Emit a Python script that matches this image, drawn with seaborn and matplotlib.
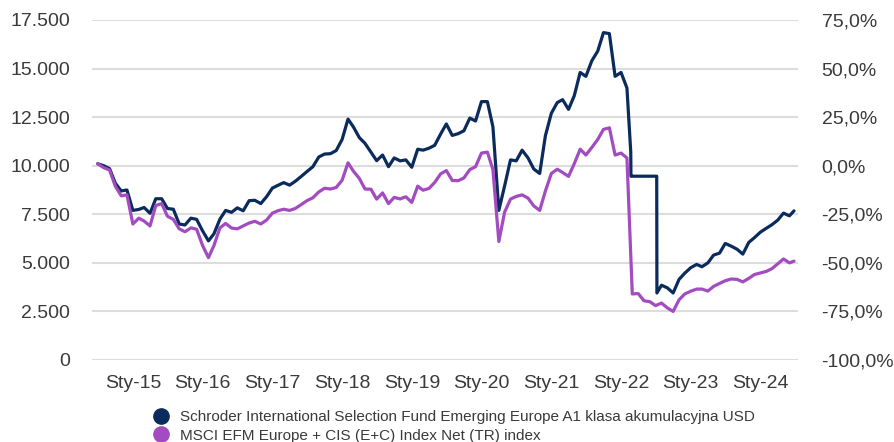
import numpy as np
import pandas as pd
import matplotlib
matplotlib.use("Agg")
import matplotlib.pyplot as plt
import matplotlib.ticker as mticker
from matplotlib.lines import Line2D
import seaborn as sns

# monthly values (growth of 10 000), Jul 2014 .. Jun 2024
months = pd.date_range("2014-07-01", periods=120, freq="MS")

fund = [10100, 10000, 9850, 9100, 8700, 8750, 7700, 7750, 7850, 7550,
        8300, 8300, 7800, 7760, 7000, 6950, 7300, 7240, 6650, 6130,
        6500, 7250, 7700, 7600, 7830, 7680, 8200, 8220, 8050, 8400,
        8850, 9000, 9130, 9000, 9200, 9450, 9700, 9950, 10450, 10600,
        10620, 10780, 11350, 12400, 12000, 11450, 11150, 10700, 10260, 10550,
        9950, 10400, 10250, 10300, 9920, 10850, 10800, 10900, 11050, 11630,
        12150, 11560, 11650, 11800, 12450, 12300, 13300, 13300, 12000, 7700,
        8950, 10300, 10250, 10800, 10400, 9830, 9600, 11550, 12700, 13250,
        13400, 12900, 13600, 14800, 14600, 15400, 15900, 16850, 16800, 14600,
        14800, 14000, 9460, 9460, 9460, 9460, 9460, 3850, 3710, 3450,
        4150, 4470, 4750, 4920, 4800, 5000, 5400, 5500, 6000, 5860,
        5700, 5450, 6050, 6300, 6580, 6780, 6960, 7200, 7560, 7420]

index = [10100, 9900, 9780, 8950, 8450, 8500, 7000, 7300, 7150, 6900,
         7950, 8050, 7400, 7240, 6750, 6600, 6800, 6730, 5900, 5270,
         5900, 6800, 7030, 6790, 6750, 6900, 7050, 7140, 7000, 7200,
         7560, 7690, 7760, 7700, 7800, 8000, 8200, 8350, 8650, 8840,
         8800, 8880, 9250, 10150, 9720, 9350, 8800, 8790, 8280, 8600,
         8050, 8370, 8290, 8400, 8110, 8950, 8740, 8830, 9140, 9580,
         9750, 9240, 9230, 9370, 9800, 9950, 10650, 10700, 9800, 6100,
         7600, 8280, 8420, 8500, 8330, 7930, 7700, 8700, 9600, 9820,
         9650, 9450, 10100, 10850, 10550, 10940, 11350, 11870, 11950, 10550,
         10650, 10400, 3400, 3420, 3050, 3000, 2800, 2930, 2680, 2500,
         3100, 3400, 3540, 3650, 3650, 3550, 3790, 3940, 4080, 4170,
         4150, 4020, 4200, 4400, 4480, 4560, 4700, 4950, 5200, 5000]

# suspension of dealing in 2022 and last observations
fund_extra_dates = ["2022-02-21", "2022-02-22", "2022-07-07", "2022-07-08", "2024-06-25"]
fund_extra = [10700, 9460, 9460, 3450, 7676]
index_extra_dates = ["2024-06-25"]
index_extra = [5088]

fund_name = "Schroder International Selection Fund Emerging Europe A1 klasa akumulacyjna USD"
index_name = "MSCI EFM Europe + CIS (E+C) Index Net (TR) index"
year_ticks = [f"{y}-01-01" for y in range(2015, 2025)]
year_labels = [f"Sty-{y % 100:02d}" for y in range(2015, 2025)]

navy = "#0b2b5c"
purple = "#a34bc0"

df_f = pd.DataFrame({"date": list(months) + list(pd.to_datetime(fund_extra_dates)),
                     "value": fund + fund_extra})
df_f["series"] = fund_name
df_i = pd.DataFrame({"date": list(months) + list(pd.to_datetime(index_extra_dates)),
                     "value": index + index_extra})
df_i["series"] = index_name
df = pd.concat([df_f, df_i]).sort_values("date")

sns.set_theme(style="white")
plt.rcParams["font.family"] = ["Liberation Sans", "DejaVu Sans"]
txt = "#3a3a3a"

fig = plt.figure(figsize=(8.95, 4.42), dpi=100)
ax = fig.add_axes([92 / 895, 1 - 360 / 442, (798 - 92) / 895, 340 / 442])

sns.lineplot(data=df, x="date", y="value", hue="series", hue_order=[fund_name, index_name],
             palette=[navy, purple], estimator=None, sort=True, linewidth=2.3,
             legend=False, ax=ax)

ax.set_ylim(0, 17500)
ax.set_yticks(np.arange(0, 17501, 2500))
ax.yaxis.set_major_formatter(mticker.FuncFormatter(lambda v, p: f"{int(v):,}".replace(",", ".")))
ax.set_xlim(pd.Timestamp("2014-06-01"), pd.Timestamp("2024-07-16"))
ax.set_xticks(pd.to_datetime(year_ticks))
ax.set_xticklabels(year_labels)
ax.grid(axis="y", color="#dddddd", linewidth=1.5)
ax.set_axisbelow(True)
ax.set_xlabel("")
ax.set_ylabel("")
for s in ax.spines.values():
    s.set_visible(False)
ax.tick_params(axis="y", length=0, pad=16, labelsize=14, labelcolor=txt)
ax.tick_params(axis="x", length=0, pad=11, labelsize=14, labelcolor=txt)

ax2 = ax.twinx()
ax2.set_ylim(-100, 75)
ax2.set_yticks(np.arange(-100, 76, 25))
ax2.yaxis.set_major_formatter(mticker.FuncFormatter(lambda v, p: f"{v:.1f}%".replace(".", ",")))
for s in ax2.spines.values():
    s.set_visible(False)
ax2.tick_params(axis="y", length=0, pad=17, labelsize=14, labelcolor=txt)
ax2.grid(False)

handles = [Line2D([], [], marker="o", linestyle="", markersize=11, color=c) for c in (navy, purple)]
fig.legend(handles, [fund_name, index_name], loc="upper left",
           bbox_to_anchor=(153 / 895, 1 - 410 / 442), frameon=False, fontsize=11,
           handlelength=1.0, handletextpad=0.8, labelspacing=0.3, borderpad=0,
           borderaxespad=0, labelcolor=txt)

fig.savefig("out.png", dpi=100)
